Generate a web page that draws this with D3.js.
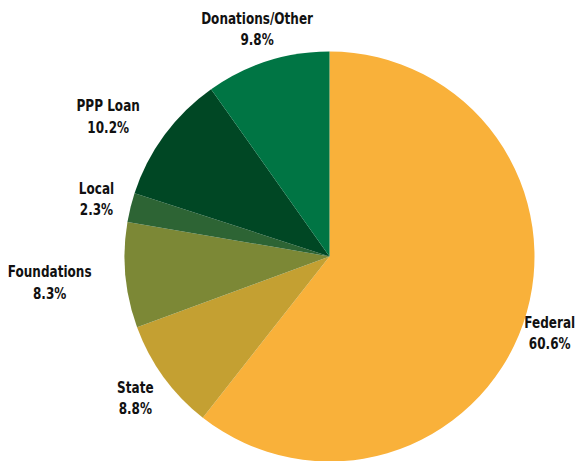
<!DOCTYPE html>
<html>
<head>
<meta charset="utf-8">
<script src="https://cdn.jsdelivr.net/npm/d3@7"></script>
<style>
  html, body { margin: 0; padding: 0; background: #fff; }
  svg { display: block; }
</style>
</head>
<body>
<svg id="chart"></svg>
<script>
// funding sources, clockwise from 12 o'clock
const categories = ["Federal", "State", "Foundations", "Local", "PPP Loan", "Donations/Other"];
const shares = [60.6, 8.8, 8.3, 2.3, 10.2, 9.8];
const colors = ["#f9b13a", "#c4a032", "#7c8836", "#2d6434", "#004724", "#007544"];

const width = 576;
const height = 461;
const cx = 329.5, cy = 256.5, radius = 205;

// how far out each label sits (labels are placed like the original, wider ones pushed out)
const labelDist = [233, 240, 281, 240, 262, 239];
const labelTurn = [0, 0, 0, 0, -4, 0]; // degrees

let svg = d3.select("#chart")
    .attr("width", width)
    .attr("height", height);

let g = svg.append("g")
    .attr("transform", "translate(" + cx + "," + cy + ")");

let pie = d3.pie().sort(null).value(d => d.value);
let arc = d3.arc().innerRadius(0).outerRadius(radius);

let data = categories.map((c, i) => ({ name: c, value: shares[i], color: colors[i], i: i }));
let arcs = pie(data);

g.selectAll("path.slice")
    .data(arcs)
    .enter()
    .append("path")
    .attr("class", "slice")
    .attr("d", arc)
    .attr("fill", d => d.data.color);

// the original uses a condensed bold face, squeeze the text a bit to get the same look
let labels = g.selectAll("g.label")
    .data(arcs)
    .enter()
    .append("g")
    .attr("class", "label")
    .attr("transform", function(d){
        let a = (d.startAngle + d.endAngle) / 2 + labelTurn[d.data.i] * Math.PI / 180;
        let r = labelDist[d.data.i];
        return "translate(" + (Math.sin(a) * r) + "," + (-Math.cos(a) * r) + ") scale(0.73,1)";
    });

labels.append("text")
    .attr("y", -5)
    .text(d => d.data.name);

labels.append("text")
    .attr("y", 16.5)
    .text(d => d.data.value.toFixed(1) + "%");

labels.selectAll("text")
    .attr("text-anchor", "middle")
    .attr("font-family", "'DejaVu Sans', sans-serif")
    .attr("font-weight", "bold")
    .attr("font-size", "16.5px")
    .attr("fill", "#111");
</script>
</body>
</html>
